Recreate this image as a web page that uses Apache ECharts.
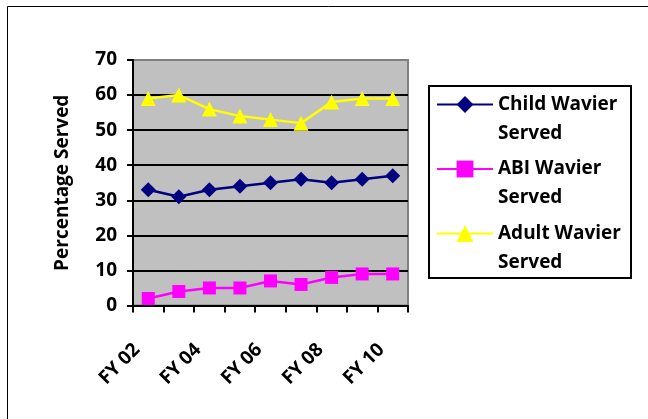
<!DOCTYPE html>
<html>
<head>
<meta charset="utf-8">
<style>
  html, body { margin: 0; padding: 0; background: #fff; }
  #chart { width: 648px; height: 419px; }
</style>
<script src="https://cdn.jsdelivr.net/npm/echarts@6/dist/echarts.min.js"></script>
</head>
<body>
<div id="chart"></div>
<script>
// Fiscal years on the category axis
const years = ['FY 02', 'FY 03', 'FY 04', 'FY 05', 'FY 06', 'FY 07', 'FY 08', 'FY 09', 'FY 10'];

// Percentage served per waiver program
const childServed = [33, 31, 33, 34, 35, 36, 35, 36, 37];
const abiServed   = [2, 4, 5, 5, 7, 6, 8, 9, 9];
const adultServed = [59, 60, 56, 54, 53, 52, 58, 59, 59];

// Value axis ticks
const yMin = 0, yMax = 70, yStep = 10;

const FONT = 'Open Sans';
const chart = echarts.init(document.getElementById('chart'), null, { renderer: 'canvas' });

chart.setOption({
  animation: false,
  backgroundColor: '#ffffff',
  textStyle: { fontFamily: FONT },
  grid: {
    left: 133, right: 240, top: 60, bottom: 113.5,
    show: true,
    backgroundColor: '#C0C0C0',
    borderColor: '#808080',
    borderWidth: 2
  },
  xAxis: {
    type: 'category',
    data: years,
    boundaryGap: true,
    axisLine: { lineStyle: { color: '#000', width: 2 } },
    axisTick: { show: true, interval: 0, length: 7, lineStyle: { color: '#000', width: 2 } },
    axisLabel: {
      interval: 1,
      rotate: 45,
      margin: 30,
      padding: [0, 16, 0, 0],
      color: '#000',
      fontFamily: FONT,
      fontWeight: 'bold',
      fontSize: 19
    },
    splitLine: { show: false }
  },
  yAxis: {
    type: 'value',
    min: yMin, max: yMax, interval: yStep,
    name: 'Percentage Served',
    nameLocation: 'middle',
    nameGap: 61,
    nameTextStyle: { color: '#000', fontFamily: FONT, fontWeight: 'bold', fontSize: 19 },
    axisLine: { show: true, lineStyle: { color: '#000', width: 2 } },
    axisTick: { show: true, length: 6, lineStyle: { color: '#000', width: 2 } },
    axisLabel: { margin: 16, color: '#000', fontFamily: FONT, fontWeight: 'bold', fontSize: 19 },
    splitLine: { show: true, showMaxLine: false, showMinLine: false, lineStyle: { color: '#000', width: 2 } }
  },
  legend: {
    orient: 'vertical',
    left: 436, top: 61,
    padding: 0,
    itemWidth: 56, itemHeight: 21,
    itemGap: -22.5,
    // Blank first line keeps the icon level with the first text line
    formatter: function (name) { return '\n' + name.replace(' Served', '\nServed'); },
    textStyle: { color: '#000', fontFamily: FONT, fontWeight: 'bold', fontSize: 19, lineHeight: 29 },
    data: ['Child Wavier Served', 'ABI Wavier Served', 'Adult Wavier Served']
  },
  graphic: [
    { type: 'rect', silent: true, z: 100,
      shape: { x: 7.5, y: 6.5, width: 700, height: 500 },
      style: { fill: 'none', stroke: '#000', lineWidth: 1 } },
    { type: 'rect', silent: true, z: 100,
      shape: { x: 429, y: 86, width: 202, height: 192 },
      style: { fill: 'none', stroke: '#000', lineWidth: 2 } }
  ],
  series: [
    {
      name: 'Child Wavier Served', type: 'line', data: childServed,
      color: '#000080',
      symbol: 'diamond', symbolSize: 15,
      lineStyle: { width: 2.5, color: '#000080' },
      itemStyle: { color: '#000080' }
    },
    {
      name: 'ABI Wavier Served', type: 'line', data: abiServed,
      color: '#FF00FF',
      symbol: 'rect', symbolSize: 13,
      lineStyle: { width: 2.5, color: '#FF00FF' },
      itemStyle: { color: '#FF00FF' }
    },
    {
      name: 'Adult Wavier Served', type: 'line', data: adultServed,
      color: '#FFFF00',
      symbol: 'triangle', symbolSize: 15,
      lineStyle: { width: 2.5, color: '#FFFF00' },
      itemStyle: { color: '#FFFF00' }
    }
  ]
});
</script>
</body>
</html>
